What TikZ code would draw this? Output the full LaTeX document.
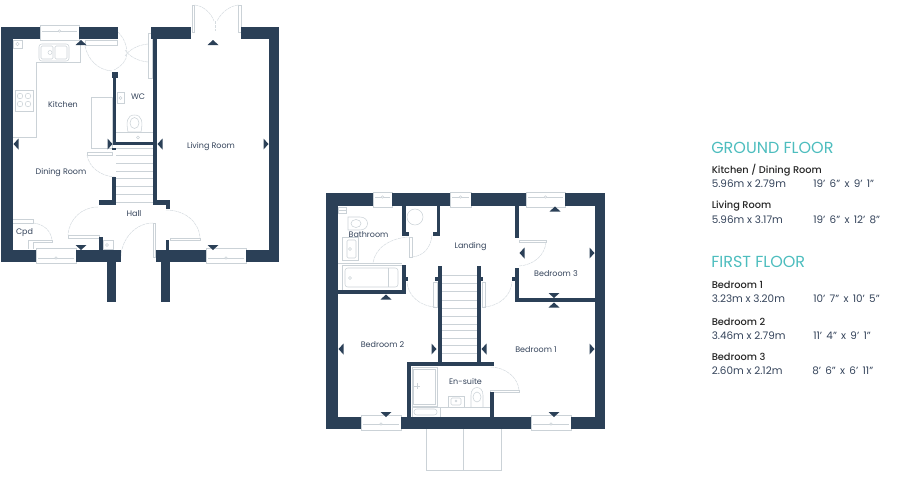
\documentclass[tikz,border=0pt]{standalone}
\usepackage{fontspec}
\setmainfont{Poppins}
\newfontfamily\medfont{Poppins Medium}
\definecolor{wallblue}{HTML}{2B4057}
\definecolor{fitline}{HTML}{CBD2D7}
\definecolor{swingline}{HTML}{D6DCE0}
\definecolor{headteal}{HTML}{4DBDBE}
\definecolor{textgrey}{HTML}{34435A}
\newcommand{\widewords}[1]{\hbox{\spaceskip=3.2pt\relax #1}}
\tikzset{
    wall/.style={fill=wallblue,draw=none},
    fitting/.style={draw=fitline,line width=0.4pt},
    swing/.style={draw=swingline,line width=0.4pt,dash pattern=on 2.5pt off 0.5pt},
    roomlabel/.style={inner sep=0pt,font=\fontsize{6}{7}\selectfont,text=textgrey},
    headlabel/.style={anchor=west,inner sep=0pt,font=\fontsize{12}{14}\selectfont,text=headteal},
    namelabel/.style={anchor=west,inner sep=0pt,font=\medfont\fontsize{7.35}{9}\selectfont,text=black!85},
    sizelabel/.style={anchor=west,inner sep=0pt,font=\fontsize{7.8}{9}\selectfont,text=textgrey},
}
\begin{document}
\begin{tikzpicture}[x=0.75pt,y=0.75pt,yscale=-1,xscale=1]
        \useasboundingbox (0,0) rectangle (900,476);

        % windows: left, right, top, bottom, line
        \foreach \wl/\wr/\wt/\wb/\wy in {40/79/25/40/31, 36/76/248/263/258, 206/246/248/263/258,
                373/392/192/207/197, 450/471/192/207/197, 526/565/192/207/197,
                361/401/415/430/424, 531/571/415/430/424} {
            \draw [fitting] (\wl,\wt) rectangle (\wr,\wb);
            \draw [fitting,line width=0.7pt] (\wl+2,\wy) -- (\wr-2,\wy);
            \draw [fitting,fill=white] ({(\wl+\wr)/2},\wy) circle (1.2);
        }

        % stairs
        \foreach \ty in {148,155.5,163,171,178.5,186,194,202} {
            \draw [fitting] (116,\ty) -- (153,\ty);
        }
        \foreach \ty in {275,283,291.5,300,308,316,324,330,338,345.5,353} {
            \draw [fitting] (442,\ty) -- (477,\ty);
        }

        % kitchen fittings
        \draw [fitting] (80,43) -- (80,62) -- (36,62) -- (36,137) -- (13,137);
        \draw [fitting] (13,40) rectangle (22,48);
        \draw [fitting] (17.5,44) circle (1.8);
        \draw [fitting,rounded corners=2] (39,44) rectangle (69,61);
        \draw [fitting,rounded corners=1] (41,46) rectangle (53,59);
        \draw [fitting,rounded corners=1] (55,46) rectangle (67,59);
        \draw [fitting] (50,52.5) circle (2);
        \draw [fitting] (15,90) rectangle (33,111);
        \foreach \hx/\hy in {20/96, 28/96, 20/104, 28/104} {
            \draw [fitting] (\hx,\hy) circle (2.8);
        }
        \draw [fitting] (91,97) rectangle (112,148);

        % wc fittings
        \draw [fitting] (117,92) rectangle (124,103);
        \draw [fitting] (120.5,98) circle (1.6);
        \draw [fitting] (128,132) .. controls (126,122) and (127,115) .. (134.5,115) .. controls (142,115) and (143,122) .. (141,132) -- cycle;
        \draw [fitting] (134.5,123) ellipse (4.5 and 5.5);
        \draw [fitting] (116,132) -- (153,132);
        \draw [fitting] (138,137.5) circle (1.6);
        \draw [fitting] (103,240) rectangle (113,249);
        \draw [fitting] (107,245) circle (1.6);

        % door leaves and swings, ground floor
        \draw [fitting] (85,40) rectangle (117,45);
        \draw [swing] (85,46) .. controls (88,60) and (98,70) .. (112,71);
        \draw [swing] (118,32) .. controls (124,38) and (127,46) .. (127,53) .. controls (127,60) and (122,66) .. (114,70);
        \draw [fitting] (148,33) rectangle (152,78);
        \draw [swing] (148,44) .. controls (138,45) and (130,49) .. (125,56);
        \draw [swing] (148,62) .. controls (138,61) and (130,57) .. (125,50);
        \draw [fitting] (192,5) rectangle (194.5,32);
        \draw [fitting] (238.5,5) rectangle (241,32);
        \draw [swing] (194.5,5) .. controls (204,6) and (211,13) .. (214,21);
        \draw [swing] (238.5,5) .. controls (229,6) and (221,13) .. (217,21);
        \draw [swing] (215.5,21) -- (215.5,31);
        \draw [fitting] (87,152) rectangle (112,155);
        \draw [swing] (87,155) .. controls (89,167) and (100,176) .. (115,177);
        \draw [fitting] (68,235) rectangle (99,238);
        \draw [swing] (98,207) .. controls (82,207) and (69,219) .. (68,235);
        \draw [fitting] (170,238) rectangle (200,240);
        \draw [swing] (166,210) .. controls (184,210) and (199,221) .. (200,238);
        \draw [fitting] (153,223) rectangle (155,257);
        \draw [swing] (153,223) .. controls (136,223) and (122,238) .. (121,256);
        \draw [fitting] (13,219) -- (33,219) -- (33,223) -- (13,223);
        \draw [swing] (33,223) .. controls (44,224) and (51,231) .. (52,240);
        \draw [fitting] (52,240) -- (28,240) -- (28,249);
        \draw [fitting] (52,240) -- (52,242) -- (33,242) -- (33,249);

        % bathroom fittings
        \draw [fitting] (338,207) rectangle (346,213);
        \draw [fitting] (338,210) -- (346,210);
        \draw [fitting] (348,217) -- (360,217) .. controls (370,217) and (370,230) .. (360,230) -- (348,230) -- cycle;
        \draw [fitting] (356,223.5) ellipse (5 and 4);
        \draw [fitting] (342,237) rectangle (358,260);
        \draw [fitting,rounded corners=1] (347,240) rectangle (356,258);
        \draw [fitting] (350,249) circle (1.4);
        \draw [fitting] (338,263) -- (402,263);
        \draw [fitting] (342,265) rectangle (402,290);
        \draw [fitting,rounded corners=2] (345,268) rectangle (398,287);
        \draw [fitting] (388,268) -- (388,287);
        \draw [fitting] (350,278) circle (1.6);
        \draw [fitting] (415,217) circle (8);
        \draw [fitting] (409,237) rectangle (412,257);
        \draw [swing] (409,237) .. controls (390,238) and (375,248) .. (373,263);
        \draw [swing] (412,257) .. controls (424,256) and (431,247) .. (432,235);

        % landing doors
        \draw [fitting] (519,240) rectangle (546,242);
        \draw [swing] (546,242) .. controls (545,255) and (534,265) .. (519,266);
        \draw [fitting] (433,282) rectangle (437,307);
        \draw [swing] (435,307) .. controls (420,306) and (408,296) .. (407,282);
        \draw [fitting] (482,282) rectangle (485,307);
        \draw [swing] (484,307) .. controls (499,306) and (511,296) .. (512,282);

        % en-suite fittings
        \draw [fitting] (412,367) rectangle (437,406);
        \draw [fitting] (413.5,369) rectangle (435.5,404);
        \draw [fitting] (414,386) -- (420,386);
        \draw [fitting] (417,383) -- (417,389);
        \draw [fitting] (412,407) -- (490,407);
        \draw [fitting] (412,407) rectangle (440,417);
        \draw [fitting,rounded corners=2] (414,409) rectangle (437,415);
        \draw [fitting] (448,396) rectangle (464,407);
        \draw [fitting,rounded corners=1] (451,398) rectangle (461,405);
        \draw [fitting] (456,401) circle (0.9);
        \draw [fitting] (471,407) -- (471,395) .. controls (471,385) and (483,385) .. (483,395) -- (483,407);
        \draw [fitting] (477,397) ellipse (4 and 5);
        \draw [fitting] (490,390) rectangle (519,392);
        \draw [swing] (519,390) .. controls (518,378) and (506,367) .. (490,367);

        % balcony line below first floor
        \draw [fitting] (426,429) -- (426,470) -- (501,470) -- (501,429);
        \draw [fitting] (463.5,429) -- (463.5,470);

        % ground floor walls
        \fill [wall] (1,27) rectangle (13,262);
        \fill [wall] (269,27) rectangle (279,262);
        \foreach \xa/\xb in {1/40, 79/118, 151/191, 241/279} {
            \fill [wall] (\xa,27) rectangle (\xb,39);
        }
        \foreach \xa/\xb in {1/36, 76/121, 156/206, 246/279} {
            \fill [wall] (\xa,250) rectangle (\xb,262);
        }
        \fill [wall] (107,262) rectangle (115.5,302);
        \fill [wall] (161,262) rectangle (170,302);
        \fill [wall] (113,76) rectangle (116,143);
        \fill [wall] (112,72) rectangle (118,78);
        \fill [wall] (113,142) rectangle (155,145);
        \fill [wall] (112,148) rectangle (116,150);
        \fill [wall] (112,177) rectangle (116,205);
        \fill [wall] (99,200) rectangle (116,205);
        \fill [wall] (153,39) rectangle (157,205);
        \fill [wall] (153,200) rectangle (170,205);
        \fill [wall] (166,200) rectangle (170,209);
        \fill [wall] (99,237) rectangle (103,250);
        \fill [wall] (166,240) rectangle (169,250);

        % first floor walls
        \fill [wall] (326,193) rectangle (338,429);
        \fill [wall] (595,193) rectangle (605,429);
        \foreach \xa/\xb in {326/373, 392/450, 471/526, 565/605} {
            \fill [wall] (\xa,193) rectangle (\xb,206);
        }
        \foreach \xa/\xb in {326/361, 401/531, 571/605} {
            \fill [wall] (\xa,417) rectangle (\xb,429);
        }
        \fill [wall] (402,206) rectangle (406,236);
        \fill [wall] (402,232) rectangle (409,236);
        \fill [wall] (437,206) rectangle (440,236);
        \fill [wall] (433,232) rectangle (440,236);
        \fill [wall] (402,265) rectangle (406,294);
        \fill [wall] (406,277) rectangle (408,281);
        \fill [wall] (338,290) rectangle (406,294);
        \fill [wall] (438,266) rectangle (441.5,362);
        \fill [wall] (435,277) rectangle (438,281);
        \fill [wall] (477,266) rectangle (481,362);
        \fill [wall] (481,277) rectangle (483,281);
        \fill [wall] (515,206) rectangle (519,238);
        \fill [wall] (515,268) rectangle (519,302);
        \fill [wall] (512,277) rectangle (515,281);
        \fill [wall] (515,298) rectangle (595,302);
        \fill [wall] (407,362) rectangle (494,366);
        \fill [wall] (407,362) rectangle (411,417);
        \fill [wall] (490,392) rectangle (494,417);

        % measuring marks: tip, rotation
        \foreach \mx/\my/\mr in {81/40/0, 213/40/0, 555/206.5/0, 386/294.5/0, 554/302.5/0,
                81/250/180, 213/250/180, 554/298/180, 386/417/180, 554/417/180,
                13.5/144/270, 157.5/144/270, 519.5/253/270, 338.5/349/270, 481.5/349/270,
                112.5/144/90, 268.5/144/90, 594.5/253/90, 436.5/349/90, 594.5/349/90} {
            \fill [wall,shift={(\mx,\my)},rotate=\mr] (0,0) -- (5.5,5) -- (-5.5,5) -- cycle;
        }

        % room names
        \node [roomlabel] (kitchen) at (63,104) {Kitchen};
        \node [roomlabel] (wc) at (138,97) {WC};
        \node [roomlabel] (living) at (211,147) {Living Room};
        \node [roomlabel] (dining) at (61,173) {Dining Room};
        \node [roomlabel] (hall) at (134,214) {Hall};
        \node [roomlabel] (cpd) at (24.5,233) {Cpd};
        \node [roomlabel] (bathroom) at (368.5,235) {Bathroom};
        \node [roomlabel] (landing) at (470.5,247) {Landing};
        \node [roomlabel] (bedthree) at (556,274) {Bedroom 3};
        \node [roomlabel] (bedtwo) at (382.5,345) {Bedroom 2};
        \node [roomlabel] (bedone) at (536,350) {Bedroom 1};
        \node [roomlabel] (ensuite) at (465.5,381) {En-suite};

        % size tables
        \node [headlabel] (ground) at (711,148) {GROUND FLOOR};
        \node [namelabel] (kdname) at (711.5,170) {Kitchen / Dining Room};
        \node [sizelabel] (kdmetric) at (711.5,184) {5.96m x 2.79m};
        \node [sizelabel] (kdimp) at (813,184) {\widewords{19’ 6” x 9’ 1”}};
        \node [namelabel] (lvname) at (711.5,206) {Living Room};
        \node [sizelabel] (lvmetric) at (711.5,220) {5.96m x 3.17m};
        \node [sizelabel] (lvimp) at (813,220) {\widewords{19’ 6” x 12’ 8”}};

        \node [headlabel] (first) at (711,262) {FIRST FLOOR};
        \node [namelabel] (boname) at (711.5,285) {Bedroom 1};
        \node [sizelabel] (bometric) at (711.5,299) {3.23m x 3.20m};
        \node [sizelabel] (boimp) at (813,299) {\widewords{10’ 7” x 10’ 5”}};
        \node [namelabel] (btname) at (711.5,321.5) {Bedroom 2};
        \node [sizelabel] (btmetric) at (711.5,335.5) {3.46m x 2.79m};
        \node [sizelabel] (btimp) at (813,335.5) {\widewords{11’ 4” x 9’ 1”}};
        \node [namelabel] (bhname) at (711.5,357) {Bedroom 3};
        \node [sizelabel] (bhmetric) at (711.5,371) {2.60m x 2.12m};
        \node [sizelabel] (bhimp) at (812,371) {\widewords{8’ 6” x 6’ 11”}};
\end{tikzpicture}
\end{document}
